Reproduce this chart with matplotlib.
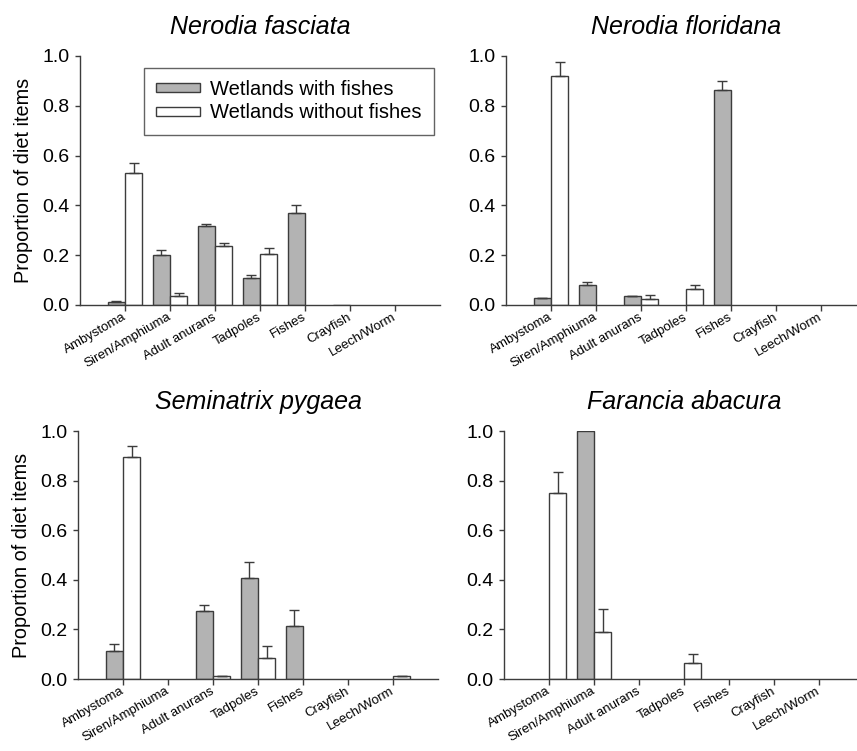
import numpy as np
import matplotlib
matplotlib.use("Agg")
import matplotlib.pyplot as plt
from matplotlib.ticker import FormatStrFormatter

plt.rcParams['font.family'] = ['Liberation Sans', 'DejaVu Sans']

categories = ["Ambystoma", "Siren/Amphiuma", "Adult anurans", "Tadpoles",
              "Fishes", "Crayfish", "Leech/Worm"]
species = ["Nerodia fasciata", "Nerodia floridana", "Seminatrix pygaea", "Farancia abacura"]
legend_labels = ["Wetlands with fishes", "Wetlands without fishes"]
ylabel = "Proportion of diet items"
yticks = [0.0, 0.2, 0.4, 0.6, 0.8, 1.0]

# Nerodia fasciata
fasciata_with = [0.012, 0.200, 0.316, 0.107, 0.370, 0.002, 0.0]
fasciata_with_se = [0.003, 0.021, 0.011, 0.012, 0.031, 0.0, 0.0]
fasciata_without = [0.532, 0.035, 0.235, 0.203, 0.0, 0.0, 0.0]
fasciata_without_se = [0.039, 0.012, 0.012, 0.027, 0.0, 0.0, 0.0]

# Nerodia floridana
floridana_with = [0.027, 0.082, 0.036, 0.0, 0.865, 0.0, 0.0]
floridana_with_se = [0.002, 0.009, 0.001, 0.0, 0.035, 0.0, 0.0]
floridana_without = [0.918, 0.0, 0.024, 0.066, 0.0, 0.0, 0.0]
floridana_without_se = [0.059, 0.0, 0.015, 0.014, 0.0, 0.0, 0.0]

# Seminatrix pygaea
pygaea_with = [0.112, 0.0, 0.273, 0.407, 0.212, 0.0, 0.0]
pygaea_with_se = [0.029, 0.0, 0.027, 0.064, 0.066, 0.0, 0.0]
pygaea_without = [0.896, 0.0, 0.013, 0.086, 0.0, 0.0, 0.013]
pygaea_without_se = [0.042, 0.0, 0.001, 0.047, 0.0, 0.0, 0.001]

# Farancia abacura
abacura_with = [0.0, 1.0, 0.0, 0.0, 0.0, 0.0, 0.0]
abacura_with_se = [0.0, 0.0, 0.0, 0.0, 0.0, 0.0, 0.0]
abacura_without = [0.749, 0.188, 0.0, 0.066, 0.0, 0.0, 0.0]
abacura_without_se = [0.087, 0.093, 0.0, 0.033, 0.0, 0.0, 0.0]

panels = [
    (fasciata_with, fasciata_with_se, fasciata_without, fasciata_without_se),
    (floridana_with, floridana_with_se, floridana_without, floridana_without_se),
    (pygaea_with, pygaea_with_se, pygaea_without, pygaea_without_se),
    (abacura_with, abacura_with_se, abacura_without, abacura_without_se),
]

GREY = "#b3b3b3"
EDGE = "#3c3c3c"
W = 0.38

fig = plt.figure(figsize=(8.57, 7.51), dpi=100)
rects = [
    [80/857, 1-305/751, 360/857, 249/751],
    [506/857, 1-305/751, 360/857, 249/751],
    [78/857, 1-679/751, 360/857, 248/751],
    [504/857, 1-679/751, 360/857, 248/751],
]

x = np.arange(len(categories))
for i, (rect, name, data) in enumerate(zip(rects, species, panels)):
    ax = fig.add_axes(rect)
    gw, gse, ww, wse = [np.array(d, dtype=float) for d in data]
    handles = []
    for vals, se, off, fc in ((gw, gse, -W/2, GREY), (ww, wse, W/2, "white")):
        m = vals > 0
        h = ax.bar(x[m] + off, vals[m], W, color=fc, edgecolor=EDGE, linewidth=1.0, zorder=2)
        handles.append(h)
        e = se > 0
        if e.any():
            ax.errorbar(x[e] + off, vals[e], yerr=[np.zeros(e.sum()), se[e]],
                        fmt='none', ecolor=EDGE, elinewidth=1.0, capsize=3.6,
                        capthick=1.0, zorder=3)
    ax.set_xlim(-1, 7)
    ax.set_ylim(0, 1.0)
    ax.set_yticks(yticks)
    ax.yaxis.set_major_formatter(FormatStrFormatter('%.1f'))
    ax.set_xticks(x)
    ax.set_xticklabels(categories, rotation=30, ha='right', va='center',
                       rotation_mode='anchor', fontsize=9.5)
    ax.tick_params(axis='y', labelsize=14, direction='out', length=3.5,
                   color=EDGE, width=1.0, pad=4)
    ax.tick_params(axis='x', direction='out', length=4, color=EDGE, width=1.0, pad=4)
    for s in ('top', 'right'):
        ax.spines[s].set_visible(False)
    for s in ('left', 'bottom'):
        ax.spines[s].set_color(EDGE)
        ax.spines[s].set_linewidth(1.0)
    ax.set_title(name, fontsize=18, style='italic', pad=16)
    if i % 2 == 0:
        ax.set_ylabel(ylabel, fontsize=14.3, labelpad=7)
    if i == 0:
        leg = ax.legend(handles, legend_labels, loc='upper right',
                        bbox_to_anchor=(0.983, 0.952), borderaxespad=0,
                        fontsize=14.5, handlelength=2.2, handleheight=0.3,
                        handletextpad=0.5, labelspacing=0.22, borderpad=0.6,
                        fancybox=False, frameon=True)
        leg.get_frame().set_edgecolor(EDGE)
        leg.get_frame().set_linewidth(1.0)

fig.savefig("out.png", dpi=100)
